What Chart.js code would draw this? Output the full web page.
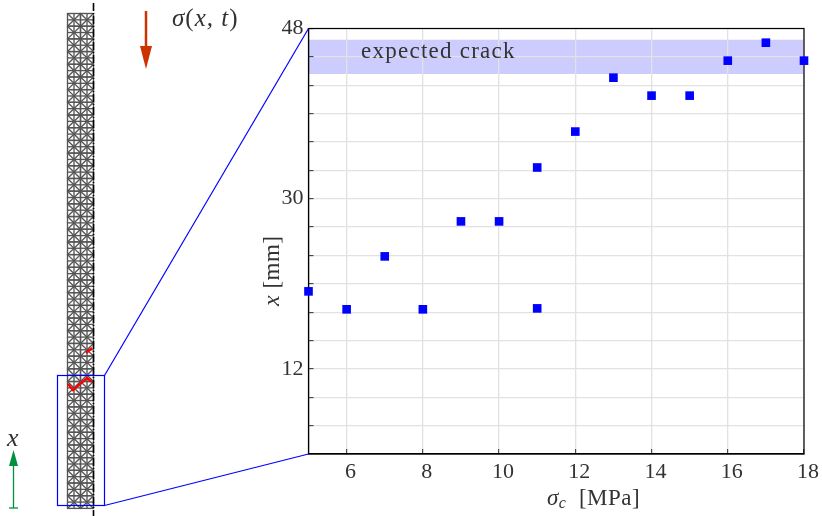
<!DOCTYPE html>
<html lang="en">
<head>
    <meta charset="UTF-8">
    <title>Crack position vs critical stress</title>
    <script src="https://cdn.jsdelivr.net/npm/chart.js"></script>
    <style>
        body { margin: 0; background: #fff; }
        #wrap { width: 822px; height: 516px; }
    </style>
</head>
<body>
    <div id="wrap"><canvas id="crackChart"></canvas></div>
    <script>
        const sigmaValues = [5, 6, 7, 8, 9, 10, 11, 11, 12, 13, 14, 15, 16, 17, 18];
        const crackValues = [20.2, 18.3, 23.9, 18.3, 27.6, 27.6, 33.3, 18.4, 37.1, 42.8, 40.9, 40.9, 44.6, 46.5, 44.6];
        const bandLimits = [43.2, 46.8];
        const labelledY = [12, 30, 48];
        const xRange = [5, 18];
        const yRange = [3, 48];

        const serif = '"Liberation Serif", serif';
        const inkColor = '#333333';

        // text with mixed italic/upright parts, runs = [[text, font, dy], ...]
        const drawRuns = (ctx, x, y, runs) => {
            runs.forEach(([text, font, dy]) => {
                ctx.font = font;
                ctx.fillText(text, x, y + (dy || 0));
                x += ctx.measureText(text).width;
            });
        };

        const line = (ctx, pts) => {
            ctx.beginPath();
            pts.forEach(([x, y], i) => i ? ctx.lineTo(x, y) : ctx.moveTo(x, y));
            ctx.stroke();
        };

        const arrowHead = (ctx, x, yBase, yTip, half) => {
            ctx.beginPath();
            ctx.moveTo(x - half, yBase);
            ctx.lineTo(x + half, yBase);
            ctx.lineTo(x, yTip);
            ctx.closePath();
            ctx.fill();
        };

        // the meshed bar and everything around it on the left
        const drawSpecimen = (ctx) => {
            const left = 67.5, cellW = 13, cellH = 12.69, top = 13.5, rows = 39;
            ctx.strokeStyle = '#555555';
            ctx.lineWidth = 1.35;
            for (let r = 0; r < rows; r++) {
                for (let c = 0; c < 2; c++) {
                    const x = left + c * cellW, y = top + r * cellH;
                    ctx.strokeRect(x, y, cellW, cellH);
                    line(ctx, [[x, y], [x + cellW, y + cellH]]);
                    line(ctx, [[x + cellW, y], [x, y + cellH]]);
                    line(ctx, [[x + cellW / 2, y], [x + cellW / 2, y + cellH]]);
                    line(ctx, [[x, y + cellH / 2], [x + cellW, y + cellH / 2]]);
                }
            }

            ctx.strokeStyle = '#000000';
            ctx.lineWidth = 1.6;
            ctx.setLineDash([8, 2, 1, 2]);
            line(ctx, [[93.5, 3], [93.5, 516]]);
            ctx.setLineDash([]);

            ctx.strokeStyle = '#ff0000';
            ctx.lineWidth = 2.5;
            line(ctx, [[68, 384], [73, 390], [87, 378], [92, 382]]);
            line(ctx, [[86, 353], [92, 348]]);

            ctx.strokeStyle = '#0000ff';
            ctx.lineWidth = 1.2;
            ctx.strokeRect(57.5, 375.5, 47, 130);
            line(ctx, [[104.5, 375.5], [308.5, 28.5]]);
            line(ctx, [[104.5, 505.5], [308.5, 454]]);

            ctx.strokeStyle = ctx.fillStyle = '#cc3300';
            ctx.lineWidth = 2.5;
            line(ctx, [[146, 11], [146, 48]]);
            arrowHead(ctx, 146, 46, 69, 6);

            ctx.strokeStyle = ctx.fillStyle = '#009040';
            ctx.lineWidth = 1.3;
            line(ctx, [[13.5, 465], [13.5, 508]]);
            line(ctx, [[9, 508], [18, 508]]);
            arrowHead(ctx, 13.5, 466, 450, 4.5);
        };

        const overlayPlugin = {
            id: 'overlay',
            beforeDatasetsDraw(chart) {
                const ctx = chart.ctx;
                const area = chart.chartArea;
                ctx.save();
                ctx.strokeStyle = '#000000';
                ctx.lineWidth = 1.2;
                ctx.strokeRect(area.left, area.top, area.right - area.left, area.bottom - area.top);
                ctx.restore();
            },
            afterDraw(chart) {
                const ctx = chart.ctx;
                ctx.save();
                drawSpecimen(ctx);

                ctx.fillStyle = inkColor;
                ctx.textAlign = 'left';
                ctx.textBaseline = 'alphabetic';
                ctx.letterSpacing = '1.25px';
                drawRuns(ctx, 361, 58, [['expected crack', `23px ${serif}`]]);
                ctx.letterSpacing = '1px';

                drawRuns(ctx, 172, 26, [
                    ['σ', `italic 25px ${serif}`],
                    ['(', `25px ${serif}`],
                    ['x, t', `italic 25px ${serif}`],
                    [')', `25px ${serif}`]
                ]);
                ctx.letterSpacing = '0.5px';
                drawRuns(ctx, 7, 446, [['x', `italic 26px ${serif}`]]);
                drawRuns(ctx, 547, 505, [
                    ['σ', `italic 23px ${serif}`],
                    ['c', `italic 16px ${serif}`, 3],
                    ['  [MPa]', `23px ${serif}`]
                ]);

                ctx.translate(279, 306);
                ctx.rotate(-Math.PI / 2);
                drawRuns(ctx, 0, 0, [
                    ['x', `italic 24px ${serif}`],
                    [' [mm]', `23px ${serif}`]
                ]);
                ctx.restore();
            }
        };

        new Chart(document.getElementById('crackChart'), {
            type: 'scatter',
            data: {
                datasets: [
                    {
                        label: 'x',
                        data: sigmaValues.map((s, i) => ({ x: s, y: crackValues[i] })),
                        pointStyle: 'rect',
                        pointRadius: 6.1,
                        pointHoverRadius: 6.1,
                        backgroundColor: '#0000ff',
                        borderColor: '#0000ff',
                        borderWidth: 0,
                        showLine: false,
                        clip: false,
                        order: 1
                    },
                    {
                        label: 'expected crack',
                        data: xRange.map(s => ({ x: s, y: bandLimits[1] })),
                        showLine: true,
                        borderWidth: 0,
                        pointRadius: 0,
                        backgroundColor: '#ccccff',
                        fill: { value: bandLimits[0] },
                        order: 2
                    }
                ]
            },
            options: {
                responsive: true,
                maintainAspectRatio: false,
                animation: false,
                layout: { autoPadding: false, padding: { left: 0, right: 18, top: 28.5, bottom: 0 } },
                plugins: {
                    legend: { display: false },
                    tooltip: { enabled: false },
                    filler: { drawTime: 'beforeDraw' }
                },
                scales: {
                    x: {
                        type: 'linear',
                        min: xRange[0],
                        max: xRange[1],
                        afterFit: (scale) => {
                            scale.height = 62;
                            scale.paddingLeft = 0;
                            scale.paddingRight = 0;
                        },
                        afterBuildTicks: (scale) => {
                            scale.ticks = scale.ticks.filter(t => t.value % 2 === 0);
                        },
                        ticks: {
                            stepSize: 1,
                            padding: 10,
                            labelOffset: 4,
                            maxRotation: 0,
                            autoSkip: false,
                            color: inkColor,
                            font: { family: serif, size: 22 }
                        },
                        grid: { color: '#e2e2e2', lineWidth: 1.3, tickLength: -5, tickColor: '#333333', tickWidth: 1 },
                        border: { color: '#000000', width: 1.2 }
                    },
                    y: {
                        type: 'linear',
                        min: yRange[0],
                        max: yRange[1],
                        afterFit: (scale) => { scale.width = 308.5; },
                        ticks: {
                            stepSize: 3,
                            padding: 10,
                            autoSkip: false,
                            color: inkColor,
                            font: { family: serif, size: 22 },
                            callback: (v) => labelledY.includes(v) ? String(v) : ''
                        },
                        grid: { color: '#e2e2e2', lineWidth: 1.3, tickLength: -5, tickColor: '#333333', tickWidth: 1 },
                        border: { color: '#000000', width: 1.2 }
                    }
                }
            },
            plugins: [overlayPlugin]
        });
    </script>
</body>
</html>
